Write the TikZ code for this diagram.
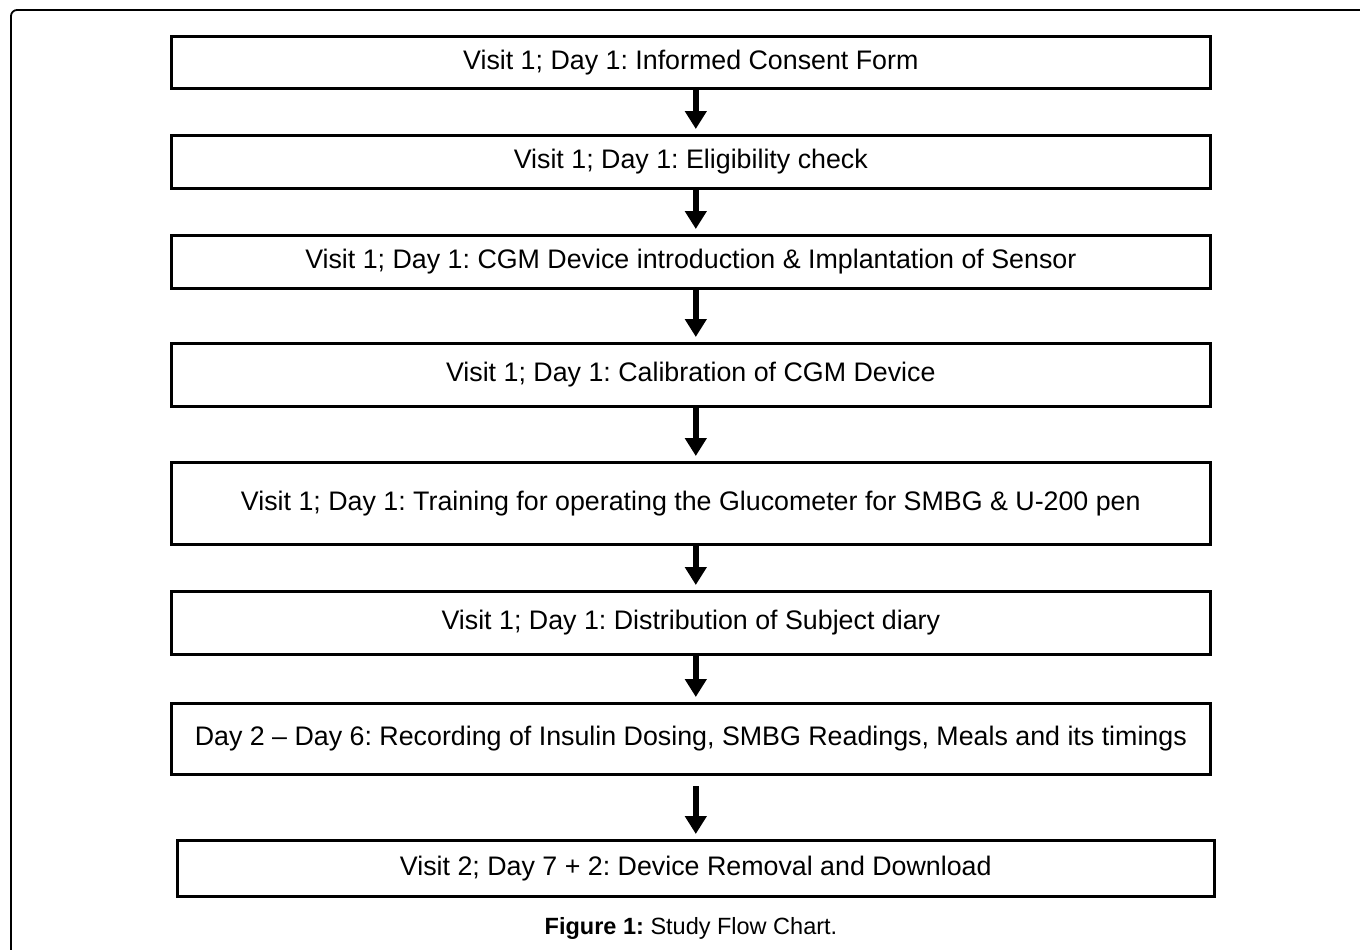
\documentclass[tikz,border=0pt]{standalone}
\usepackage{fontspec}
\setmainfont{Liberation Sans}
\usetikzlibrary{arrows.meta}
\begin{document}
\frenchspacing
\begin{tikzpicture}[x=1pt,y=-1pt,
  stepbox/.style={draw=black,line width=2.6pt,minimum width=1039pt,inner sep=0pt,
    font=\fontsize{26.8}{30}\selectfont,anchor=north west,align=center},
  flowarrow/.style={line width=6pt,-{Triangle[width=21pt,length=18pt]}}]
  \useasboundingbox (0,0) rectangle (1360,950);
  % outer frame, only its top and left edges fall inside the page
  \begin{scope}
    \clip (0,0) rectangle (1360,950);
    \draw[line width=1.8pt,rounded corners=6pt] (11,10) rectangle (1600,1200);
  \end{scope}
  \node[stepbox,minimum height=52pt] (s1) at (170,35) {Visit 1; Day 1: Informed Consent Form};
  \node[stepbox,minimum height=53pt] (s2) at (170,134) {Visit 1; Day 1: Eligibility check};
  \node[stepbox,minimum height=53pt] (s3) at (170,234) {Visit 1; Day 1: CGM Device introduction \& Implantation of Sensor};
  \node[stepbox,minimum height=63pt] (s4) at (170,342) {Visit 1; Day 1: Calibration of CGM Device};
  \node[stepbox,minimum height=82pt] (s5) at (170,461) {Visit 1; Day 1: Training for operating the Glucometer for SMBG \& U-200 pen};
  \node[stepbox,minimum height=63pt] (s6) at (170,590) {Visit 1; Day 1: Distribution of Subject diary};
  \node[stepbox,minimum height=71pt] (s7) at (170,702) {Day 2 -- Day 6: Recording of Insulin Dosing, SMBG Readings, Meals and its timings};
  \node[stepbox,minimum height=56pt,minimum width=1037pt] (s8) at (176,839) {Visit 2; Day 7 + 2: Device Removal and Download};
  \coordinate (a7) at ([yshift=53pt]s8.north);
  \draw[flowarrow] ([xshift=5pt]s1.south) -- ([xshift=5pt,yshift=5pt]s2.north);
  \draw[flowarrow] ([xshift=5pt]s2.south) -- ([xshift=5pt,yshift=5pt]s3.north);
  \draw[flowarrow] ([xshift=5pt]s3.south) -- ([xshift=5pt,yshift=5pt]s4.north);
  \draw[flowarrow] ([xshift=5pt]s4.south) -- ([xshift=5pt,yshift=5pt]s5.north);
  \draw[flowarrow] ([xshift=5pt]s5.south) -- ([xshift=5pt,yshift=5pt]s6.north);
  \draw[flowarrow] ([xshift=5pt]s6.south) -- ([xshift=5pt,yshift=5pt]s7.north);
  \draw[flowarrow] (a7) -- ([yshift=5pt]s8.north);
  \node[font=\fontsize{23.5}{27}\selectfont] (cap) at (691,928) {\textbf{Figure 1:} Study Flow Chart.};
\end{tikzpicture}
\end{document}
